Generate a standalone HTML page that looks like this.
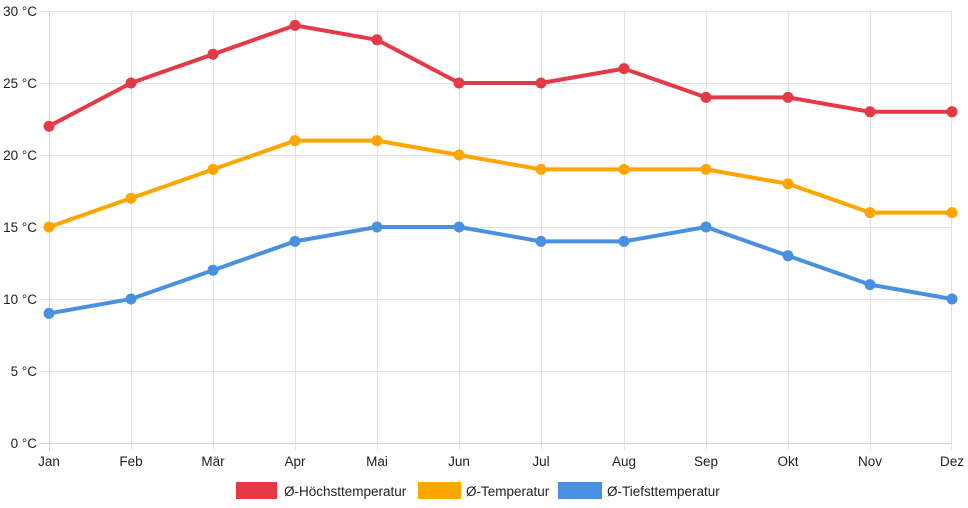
<!DOCTYPE html>
<html><head><meta charset="utf-8"><style>
html,body{margin:0;padding:0;background:#fff;}
svg{display:block;font-family:"Liberation Sans",Arial,sans-serif;}
</style></head><body>
<svg width="968" height="508" viewBox="0 0 968 508" xmlns="http://www.w3.org/2000/svg">
<g stroke="#e2e2e2" stroke-width="1" shape-rendering="crispEdges">
<line x1="39" y1="11.5" x2="952" y2="11.5"/>
<line x1="39" y1="83.5" x2="952" y2="83.5"/>
<line x1="39" y1="155.5" x2="952" y2="155.5"/>
<line x1="39" y1="227.5" x2="952" y2="227.5"/>
<line x1="39" y1="299.5" x2="952" y2="299.5"/>
<line x1="39" y1="371.5" x2="952" y2="371.5"/>
<line x1="39" y1="443.5" x2="952" y2="443.5" stroke="#d4d4d4"/>
<line x1="49.5" y1="11" x2="49.5" y2="451" stroke="#d4d4d4"/>
<line x1="131.5" y1="11" x2="131.5" y2="451"/>
<line x1="213.5" y1="11" x2="213.5" y2="451"/>
<line x1="295.5" y1="11" x2="295.5" y2="451"/>
<line x1="377.5" y1="11" x2="377.5" y2="451"/>
<line x1="459.5" y1="11" x2="459.5" y2="451"/>
<line x1="541.5" y1="11" x2="541.5" y2="451"/>
<line x1="624.5" y1="11" x2="624.5" y2="451"/>
<line x1="706.5" y1="11" x2="706.5" y2="451"/>
<line x1="788.5" y1="11" x2="788.5" y2="451"/>
<line x1="870.5" y1="11" x2="870.5" y2="451"/>
<line x1="951.5" y1="11" x2="951.5" y2="451"/>
</g>
<g fill="#222" font-size="13.5" text-anchor="end">
<text x="37" y="16">30 °C</text>
<text x="37" y="88">25 °C</text>
<text x="37" y="160">20 °C</text>
<text x="37" y="232">15 °C</text>
<text x="37" y="304">10 °C</text>
<text x="37" y="376">5 °C</text>
<text x="37" y="448">0 °C</text>
</g>
<g fill="#222" font-size="13.5" text-anchor="middle">
<text x="49" y="466">Jan</text>
<text x="131" y="466">Feb</text>
<text x="213" y="466">Mär</text>
<text x="295" y="466">Apr</text>
<text x="377" y="466">Mai</text>
<text x="459" y="466">Jun</text>
<text x="541" y="466">Jul</text>
<text x="624" y="466">Aug</text>
<text x="706" y="466">Sep</text>
<text x="788" y="466">Okt</text>
<text x="870" y="466">Nov</text>
<text x="952" y="466">Dez</text>
</g>
<g stroke="#e63946" fill="#e63946" stroke-width="4" stroke-linejoin="round">
<polyline fill="none" points="49,126.2 131,83 213,54.2 295,25.4 377,39.8 459,83 541,83 624,68.6 706,97.4 788,97.4 870,111.8 952,111.8"/>
<g stroke="none">
<circle cx="49" cy="126.2" r="5.5"/><circle cx="131" cy="83" r="5.5"/><circle cx="213" cy="54.2" r="5.5"/><circle cx="295" cy="25.4" r="5.5"/><circle cx="377" cy="39.8" r="5.5"/><circle cx="459" cy="83" r="5.5"/><circle cx="541" cy="83" r="5.5"/><circle cx="624" cy="68.6" r="5.5"/><circle cx="706" cy="97.4" r="5.5"/><circle cx="788" cy="97.4" r="5.5"/><circle cx="870" cy="111.8" r="5.5"/><circle cx="952" cy="111.8" r="5.5"/>
</g></g>
<g stroke="#ffa500" fill="#ffa500" stroke-width="4" stroke-linejoin="round">
<polyline fill="none" points="49,227 131,198.2 213,169.4 295,140.6 377,140.6 459,155 541,169.4 624,169.4 706,169.4 788,183.8 870,212.6 952,212.6"/>
<g stroke="none">
<circle cx="49" cy="227" r="5.5"/><circle cx="131" cy="198.2" r="5.5"/><circle cx="213" cy="169.4" r="5.5"/><circle cx="295" cy="140.6" r="5.5"/><circle cx="377" cy="140.6" r="5.5"/><circle cx="459" cy="155" r="5.5"/><circle cx="541" cy="169.4" r="5.5"/><circle cx="624" cy="169.4" r="5.5"/><circle cx="706" cy="169.4" r="5.5"/><circle cx="788" cy="183.8" r="5.5"/><circle cx="870" cy="212.6" r="5.5"/><circle cx="952" cy="212.6" r="5.5"/>
</g></g>
<g stroke="#4a90e2" fill="#4a90e2" stroke-width="4" stroke-linejoin="round">
<polyline fill="none" points="49,313.4 131,299 213,270.2 295,241.4 377,227 459,227 541,241.4 624,241.4 706,227 788,255.8 870,284.6 952,299"/>
<g stroke="none">
<circle cx="49" cy="313.4" r="5.5"/><circle cx="131" cy="299" r="5.5"/><circle cx="213" cy="270.2" r="5.5"/><circle cx="295" cy="241.4" r="5.5"/><circle cx="377" cy="227" r="5.5"/><circle cx="459" cy="227" r="5.5"/><circle cx="541" cy="241.4" r="5.5"/><circle cx="624" cy="241.4" r="5.5"/><circle cx="706" cy="227" r="5.5"/><circle cx="788" cy="255.8" r="5.5"/><circle cx="870" cy="284.6" r="5.5"/><circle cx="952" cy="299" r="5.5"/>
</g></g>
<rect x="236" y="482" width="41" height="17" fill="#e63946"/>
<rect x="418" y="482" width="43" height="17" fill="#ffa500"/>
<rect x="558" y="482" width="44" height="17" fill="#4a90e2"/>
<g fill="#222" font-size="13.5">
<text x="284" y="496">Ø-Höchsttemperatur</text>
<text x="466" y="496">Ø-Temperatur</text>
<text x="607" y="496">Ø-Tiefsttemperatur</text>
</g>
</svg>
</body></html>
